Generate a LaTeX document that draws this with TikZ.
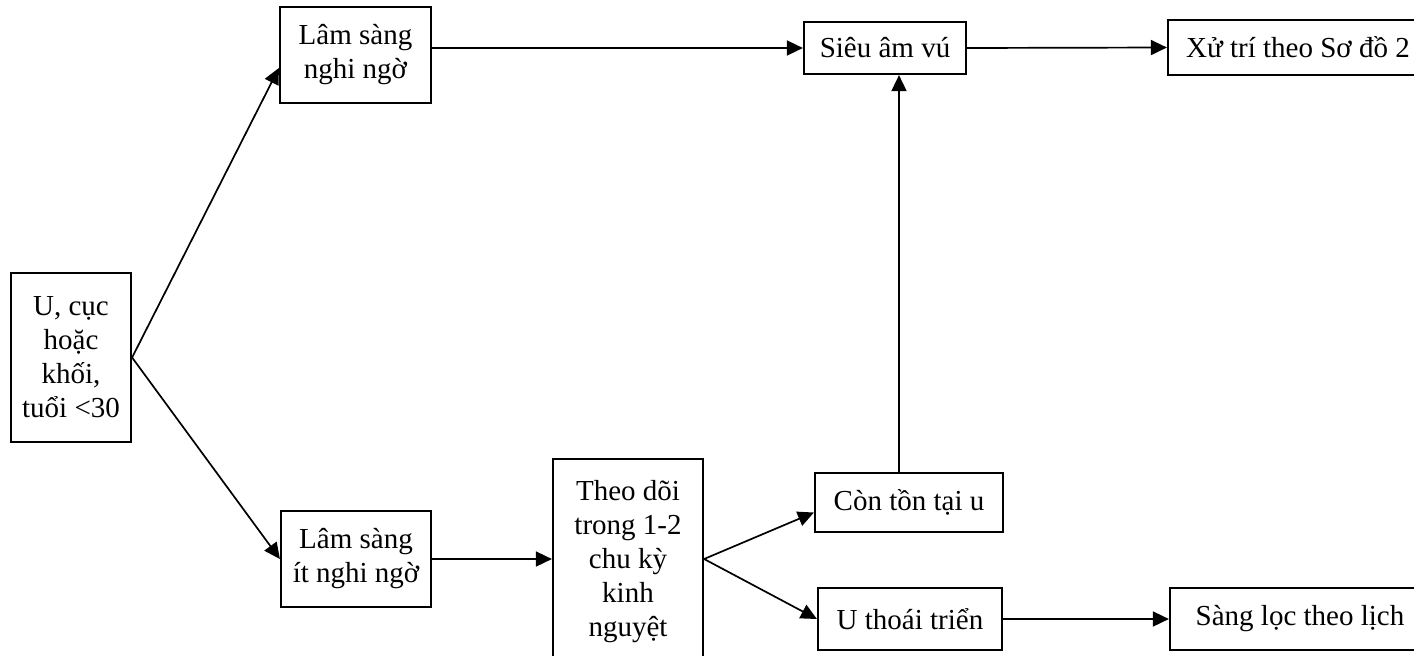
\documentclass[tikz,border=0pt]{standalone}
\usepackage{fontspec}
\setmainfont{Liberation Serif}
\usetikzlibrary{arrows.meta}
\begin{document}
\begin{tikzpicture}[x=1pt,y=-1pt,
  box/.style={draw,line width=2.2pt,rectangle,align=center,inner sep=0pt,
    font=\fontsize{29}{34}\selectfont},
  arr/.style={line width=1.7pt,-{Triangle[length=16pt,width=15pt]}}]
\clip (0,0) rectangle (1414,656);
\fill[white] (0,0) rectangle (1414,656);

\node[box,minimum width=120pt,minimum height=169pt] (A) at (71,357.5) {U, cục\\hoặc\\khối,\\tuổi <30};
\node[box,minimum width=151pt,minimum height=96pt] (B) at (355.5,55) {Lâm sàng\\nghi ngờ};
\node[box,minimum width=162pt,minimum height=52pt] (C) at (885,48) {Siêu âm vú};
\node[box,minimum width=260pt,minimum height=55pt] (D) at (1298,47.5) {Xử trí theo Sơ đồ 2};
\node[box,minimum width=150pt,minimum height=96pt] (E) at (356,559) {Lâm sàng\\ít nghi ngờ};
\node[box,minimum width=150pt,minimum height=205pt] (F) at (628,561.5) {Theo dõi\\trong 1-2\\chu kỳ\\kinh\\nguyệt};
\node[box,minimum width=188pt,minimum height=59pt] (G) at (909,502.5) {Còn tồn tại u};
\node[box,minimum width=184pt,minimum height=62pt] (H) at (910,619) {U thoái triển};
\node[box,minimum width=260pt,minimum height=62pt] (I) at (1300,619) {Sàng lọc theo lịch};

\draw[arr] (A.east) -- ([yshift=-13pt]B.west);
\draw[arr] (A.east) -- (E.west);
\draw[arr] (B.east |- C.west) -- (C.west);
\draw[arr] (C.east) -- (D.west);
\draw[arr] (E.east) -- (F.west |- E.east);
\draw[arr] (F.east |- E.east) -- ([yshift=-10pt]G.west);
\draw[arr] (F.east |- E.east) -- (H.west);
\draw[arr] ([xshift=-10pt]G.north) -- ([xshift=-10pt]G.north |- C.south);
\draw[arr] (H.east) -- (I.west);
\end{tikzpicture}
\end{document}
